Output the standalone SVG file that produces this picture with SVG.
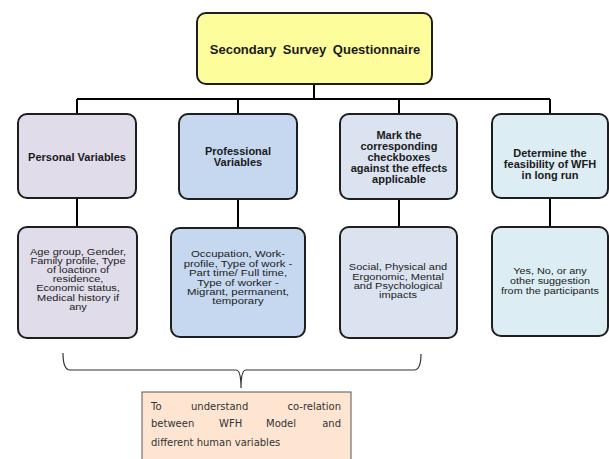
<svg xmlns="http://www.w3.org/2000/svg" width="609" height="459" viewBox="0 0 609 459">
<style>
  .box { stroke: #1e1e1e; stroke-width: 2; }
  .conn { stroke: #000; stroke-width: 2; fill: none; }
  .brace { stroke: #333; stroke-width: 1.2; fill: none; }
  .h { font-family: "Liberation Sans", Arial, sans-serif; font-weight: bold; font-size: 11px; fill: #1a1a1a; text-anchor: middle; }
  .t { font-family: "Liberation Sans", Arial, sans-serif; font-size: 9.5px; fill: #222; text-anchor: middle; }
  .n { font-family: "DejaVu Sans", Verdana, sans-serif; font-size: 10px; fill: #333; }
</style>
<rect width="609" height="459" fill="#ffffff"/>
<g id="connectors">
  <path class="conn" d="M314,84 V99 M77,99 H550 M77,99 V114 M238,99 V114 M399,99 V114 M550,99 V114"/>
  <path class="conn" d="M77,198 V227 M238,199 V228 M399,199 V227 M550,198 V227"/>
  <path class="brace" d="M63,353 Q63,370 70,370 H236 Q241,370 241,388 Q241,370 246,370 H414 Q421,370 421,354"/>
</g>
<g id="top">
  <rect class="box" x="197" y="13" width="235" height="71" rx="9" fill="#fdfd9c"/>
  <text class="h" x="315" y="54" style="font-size:13px" word-spacing="3">Secondary Survey Questionnaire</text>
</g>
<g id="personal">
  <rect class="box" x="18" y="114" width="118" height="84" rx="9" fill="#e0dcea"/>
  <text class="h" x="77" y="161">Personal Variables</text>
</g>
<g id="professional">
  <rect class="box" x="179" y="114" width="118" height="85" rx="9" fill="#c6d8f0"/>
  <text class="h" x="238" y="155">Professional</text>
  <text class="h" x="238" y="166">Variables</text>
</g>
<g id="mark">
  <rect class="box" x="340" y="114" width="117" height="85" rx="9" fill="#dbe3f0"/>
  <text class="h" x="399" y="139">Mark the</text>
  <text class="h" x="399" y="150">corresponding</text>
  <text class="h" x="399" y="161">checkboxes</text>
  <text class="h" x="399" y="172">against the effects</text>
  <text class="h" x="399" y="183">applicable</text>
</g>
<g id="determine">
  <rect class="box" x="492" y="114" width="116" height="84" rx="9" fill="#dcedf4"/>
  <text class="h" x="550" y="156.5">Determine the</text>
  <text class="h" x="550" y="167.5">feasibility of WFH</text>
  <text class="h" x="550" y="178.5">in long run</text>
</g>
<g id="personal-detail">
  <rect class="box" x="18" y="227" width="119" height="111" rx="9" fill="#e0dcea"/>
  <g transform="translate(78,0) scale(1.16,1)">
    <text class="t" x="0" y="255.5">Age group, Gender,</text>
    <text class="t" x="0" y="264.5">Family  profile, Type</text>
    <text class="t" x="0" y="273.5">of loaction of</text>
    <text class="t" x="0" y="282.5">residence,</text>
    <text class="t" x="0" y="291.5">Economic status,</text>
    <text class="t" x="0" y="301">Medical history if</text>
    <text class="t" x="0" y="310.5">any</text>
  </g>
</g>
<g id="professional-detail">
  <rect class="box" x="171" y="228" width="134" height="109" rx="9" fill="#c6d8f0"/>
  <g transform="translate(238,0) scale(1.2,1)">
    <text class="t" x="0" y="257.5">Occupation, Work-</text>
    <text class="t" x="0" y="267">profile, Type of work -</text>
    <text class="t" x="0" y="276.5">Part time/ Full time,</text>
    <text class="t" x="0" y="286">Type of worker -</text>
    <text class="t" x="0" y="295.5">Migrant, permanent,</text>
    <text class="t" x="0" y="304.5">temporary</text>
  </g>
</g>
<g id="mark-detail">
  <rect class="box" x="340" y="227" width="117" height="111" rx="9" fill="#dbe3f0"/>
  <g transform="translate(398,0) scale(1.16,1)">
    <text class="t" x="0" y="270.5">Social, Physical and</text>
    <text class="t" x="0" y="280">Ergonomic,  Mental</text>
    <text class="t" x="0" y="289.5">and Psychological</text>
    <text class="t" x="0" y="298.5">impacts</text>
  </g>
</g>
<g id="determine-detail">
  <rect class="box" x="492" y="227" width="116" height="109" rx="9" fill="#dcedf4"/>
  <g transform="translate(550,0) scale(1.14,1)">
    <text class="t" x="0" y="274.5">Yes, No, or any</text>
    <text class="t" x="0" y="284.5">other suggestion</text>
    <text class="t" x="0" y="294.5">from the participants</text>
  </g>
</g>
<g id="note">
  <rect x="142" y="392" width="209" height="70" fill="#fde5d2" stroke="#555" stroke-width="1"/>
  <text class="n" x="151" y="410">To</text>
  <text class="n" x="191" y="410">understand</text>
  <text class="n" x="341" y="410" text-anchor="end">co-relation</text>
  <text class="n" x="151" y="427">between</text>
  <text class="n" x="219" y="427">WFH</text>
  <text class="n" x="266" y="427">Model</text>
  <text class="n" x="341" y="427" text-anchor="end">and</text>
  <text class="n" x="151" y="446">different human variables</text>
</g>
</svg>
